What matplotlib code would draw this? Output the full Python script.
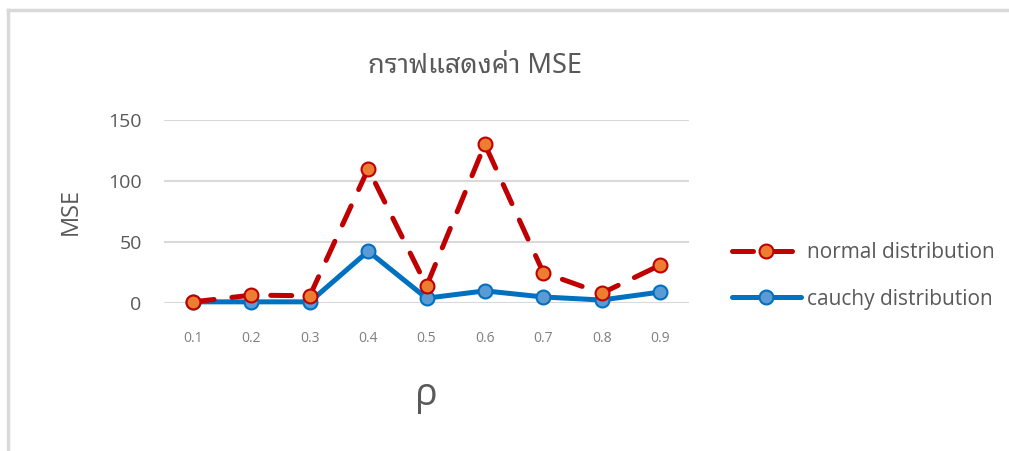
import matplotlib
matplotlib.use("Agg")
import matplotlib.pyplot as plt
from matplotlib.lines import Line2D

# ค่า rho และค่า MSE ของแต่ละการแจกแจง
rho = ['0.1', '0.2', '0.3', '0.4', '0.5', '0.6', '0.7', '0.8', '0.9']
mse_normal = [1, 6.5, 6, 110, 14, 130, 25, 8, 31]
mse_cauchy = [1, 1, 1, 42.5, 4, 10, 5, 2.5, 9]
y_ticks = [0, 50, 100, 150]

thai = ['Noto Sans Thai Looped', 'Open Sans']
latin = ['Open Sans', 'DejaVu Sans']
text_col = '#595959'

fig = plt.figure(figsize=(10.09, 4.51), dpi=100)
ax = fig.add_axes([0.1625, 0.328, 0.5205, 0.406])

x = list(range(len(rho)))
ax.plot(x, mse_cauchy, color='#0070C0', lw=3.6, marker='o', ms=10,
        mfc='#5B9BD5', mec='#0070C0', mew=1.5, zorder=3,
        solid_capstyle='round', label='cauchy distribution')
ax.plot(x, mse_normal, color='#C00000', lw=3.6, ls=(0, (4.2, 3.6)),
        dash_capstyle='round', marker='o', ms=10,
        mfc='#ED7D31', mec='#C00000', mew=1.5, zorder=4,
        label='normal distribution')

ax.set_xlim(-0.5, len(rho) - 0.5)
ax.set_ylim(0, 150)
ax.set_yticks(y_ticks)
ax.set_xticks(x)
ax.set_xticklabels(rho, family=latin, fontsize=10, color='#7f7f7f')
ax.set_yticklabels([str(v) for v in y_ticks], family=latin, fontsize=14, color=text_col)
ax.tick_params(axis='x', length=0, pad=20)
ax.tick_params(axis='y', length=0, pad=16)
ax.grid(axis='y', color='#d9d9d9', lw=1.5)
ax.set_axisbelow(True)
for s in ax.spines.values():
    s.set_visible(False)
for ln in ax.lines:
    ln.set_clip_on(False)

ax.set_ylabel('MSE', family=latin, fontsize=17, color=text_col, labelpad=18)
ax.set_xlabel('ρ', family=latin, fontsize=27, color=text_col, labelpad=22)

fig.text(475 / 1009, 1 - 66 / 451, 'กราฟแสดงค่า MSE', family=thai,
         fontsize=19.5, color=text_col, ha='center', va='center')

# ลำดับคำอธิบาย: normal ก่อน cauchy
h, l = ax.get_legend_handles_labels()
leg = fig.legend(h[::-1], l[::-1], loc='center left',
                 bbox_to_anchor=(713 / 1009, 1 - 276 / 451), frameon=False,
                 prop={'family': latin, 'size': 15}, handlelength=3.3,
                 handletextpad=0.3, labelspacing=1.2)
for t in leg.get_texts():
    t.set_color(text_col)

# กรอบแผนภูมิ
border = '#d9d9d9'
fig.add_artist(Line2D([8 / 1009, 8 / 1009], [0, 1 - 10 / 451], color=border, lw=2.5,
                      transform=fig.transFigure))
fig.add_artist(Line2D([8 / 1009, 1], [1 - 10 / 451, 1 - 10 / 451], color=border, lw=2.5,
                      transform=fig.transFigure))

fig.savefig('out.png', dpi=100, facecolor='white')
